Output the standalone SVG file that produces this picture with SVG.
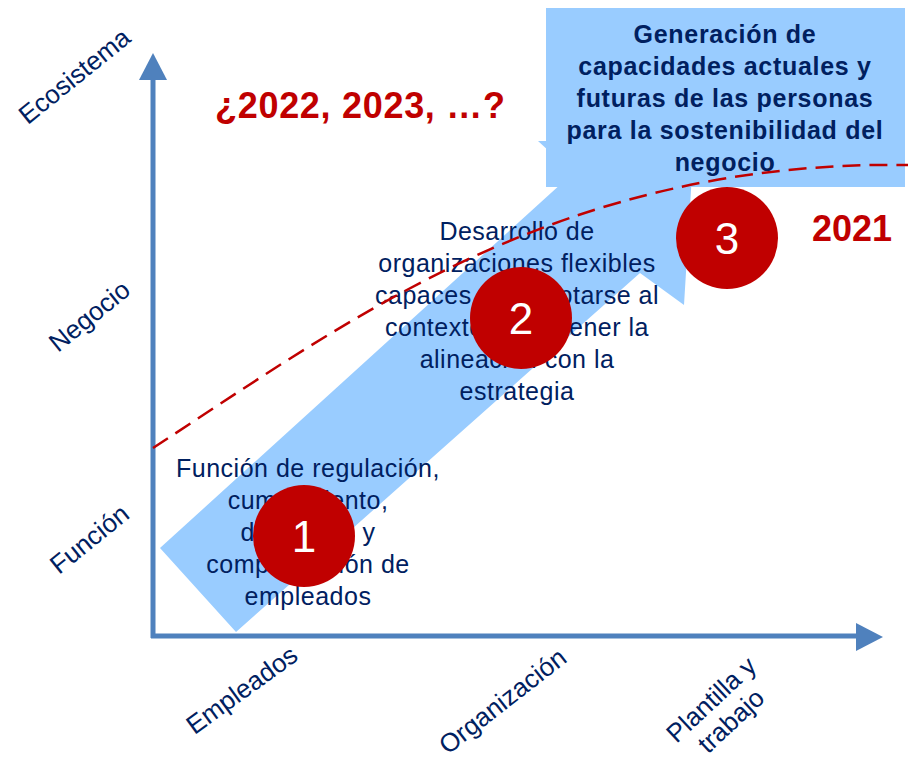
<svg xmlns="http://www.w3.org/2000/svg" width="908" height="758" viewBox="0 0 908 758">
<style>
.body{font-family:"Liberation Sans",Arial,sans-serif;font-size:25px;fill:#002060;text-anchor:middle;letter-spacing:0.5px}
.bold{font-family:"Liberation Sans",Arial,sans-serif;font-size:25px;font-weight:bold;fill:#002060;text-anchor:middle;letter-spacing:0.7px}
.axl{font-family:"Liberation Sans",Arial,sans-serif;font-size:26px;fill:#002060;text-anchor:middle}
.red{font-family:"Liberation Sans",Arial,sans-serif;font-size:36px;font-weight:bold;fill:#C00000}
.num{font-family:"Liberation Sans",Arial,sans-serif;font-size:44px;fill:#FFFFFF;text-anchor:middle}
.circ{fill:#C00000}
.ax{stroke:#4F81BD;stroke-width:5;fill:none}
</style>
<rect width="908" height="758" fill="#FFFFFF"/>
<g id="band">
<polygon points="160,548 236,632 640,273 684,305 694,141 538,141 573,173" fill="#99CCFF"/>
</g>
<g id="axes">
<line class="ax" x1="153" y1="78" x2="153" y2="638"/>
<line class="ax" x1="151" y1="636" x2="858" y2="636"/>
<polygon points="139,80 153,53 167,80" fill="#4F81BD"/>
<polygon points="856,623 883,637 856,651" fill="#4F81BD"/>
</g>
<g id="box3">
<rect x="546" y="8" width="359" height="179" fill="#99CCFF"/>
<text class="bold"><tspan x="725" y="43">Generación de</tspan><tspan x="725" y="75">capacidades actuales y</tspan><tspan x="725" y="107">futuras de las personas</tspan><tspan x="725" y="139">para la sostenibilidad del</tspan><tspan x="725" y="171">negocio</tspan></text>
</g>
<g id="text2">
<text class="body"><tspan x="517" y="240">Desarrollo de</tspan><tspan x="517" y="272">organizaciones flexibles</tspan><tspan x="517" y="304">capaces de adaptarse al</tspan><tspan x="517" y="336">contexto y mantener la</tspan><tspan x="517" y="368">alineación con la</tspan><tspan x="517" y="400">estrategia</tspan></text>
</g>
<g id="text1">
<text class="body"><tspan x="308" y="477">Función de regulación,</tspan><tspan x="308" y="509">cumplimiento,</tspan><tspan x="308" y="541">desarrollo y</tspan><tspan x="308" y="573">compensación de</tspan><tspan x="308" y="605">empleados</tspan></text>
</g>
<g id="node1">
<circle class="circ" cx="304" cy="536" r="51"/>
<text class="num" x="304" y="552">1</text>
</g>
<g id="node2">
<circle class="circ" cx="521" cy="318" r="51"/>
<text class="num" x="521" y="334">2</text>
</g>
<g id="node3">
<circle class="circ" cx="727" cy="238" r="51"/>
<text class="num" x="727" y="254">3</text>
</g>
<g id="connectors">
<path d="M153,448 C350,320 560,160 908,165" fill="none" stroke="#C00000" stroke-width="2.5" stroke-dasharray="18 9"/>
</g>
<g id="labels">
<text class="red" x="215" y="118" letter-spacing="0.7">¿2022, 2023, …?</text>
<text class="red" x="812" y="241">2021</text>
<text class="axl" transform="translate(80,83) rotate(-39)">Ecosistema</text>
<text class="axl" transform="translate(95,323) rotate(-39)">Negocio</text>
<text class="axl" transform="translate(95,546) rotate(-39)">Función</text>
<text class="axl" transform="translate(247,697) rotate(-36)">Empleados</text>
<text class="axl" transform="translate(508,708) rotate(-38)">Organización</text>
<g transform="translate(720,709) rotate(-43)"><text class="axl" x="0" y="-4">Plantilla y</text><text class="axl" x="0" y="25">trabajo</text></g>
</g>
</svg>
